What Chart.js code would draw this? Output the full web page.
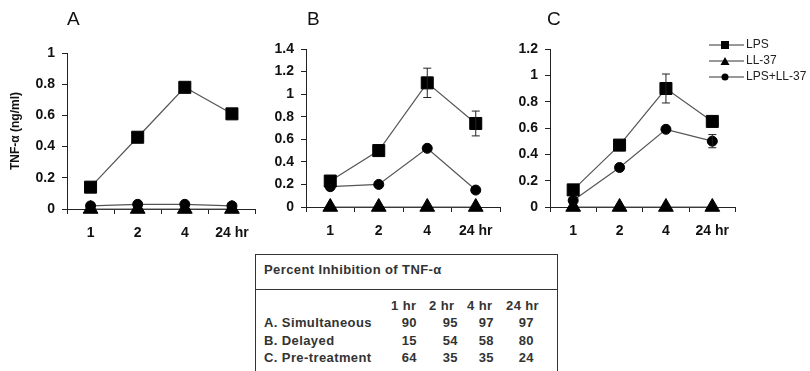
<!DOCTYPE html>
<html>
<head>
<meta charset="utf-8">
<script src="https://cdn.jsdelivr.net/npm/chart.js@4.4.1/dist/chart.umd.min.js"></script>
<style>
  body { margin: 0; background: #fff; width: 810px; height: 371px; overflow: hidden; position: relative;
         font-family: "Liberation Sans", Arial, sans-serif; color: #111; }
  canvas { position: absolute; top: 0; }
  .panel { position: absolute; font-size: 19px; top: 8px; color: #111; }
  .legend { position: absolute; left: 708px; font-size: 12px; line-height: 14px; color: #222; }
  .legend svg { vertical-align: middle; margin-right: 2px; }
  .box { position: absolute; left: 255px; top: 254px; width: 301px; height: 125px; border: 1px solid #333; }
  .t { position: absolute; font-size: 13px; font-weight: bold; letter-spacing: 0.4px; white-space: nowrap;
       line-height: 14px; color: #333; }
</style>
</head>
<body>
<canvas id="chartA" width="265" height="250" style="left:0"></canvas>
<canvas id="chartB" width="260" height="248" style="left:250px"></canvas>
<canvas id="chartC" width="245" height="248" style="left:500px"></canvas>
<div class="panel" style="left:67px">A</div>
<div class="panel" style="left:307px">B</div>
<div class="panel" style="left:547px">C</div>
<div id="legend"></div>
<div class="box" id="box"></div>
<script>
// time points
const categories = ['1', '2', '4', '24 hr'];

// panel A - simultaneous
const lpsA = [0.14, 0.46, 0.78, 0.61];
const ll37A = [0, 0, 0, 0];
const comboA = [0.02, 0.03, 0.03, 0.02];

// panel B - delayed
const lpsB = [0.23, 0.50, 1.10, 0.74];
const lpsErrB = [0, 0, 0.13, 0.11];
const ll37B = [0, 0, 0, 0];
const comboB = [0.18, 0.20, 0.52, 0.15];

// panel C - pre-treatment
const lpsC = [0.13, 0.47, 0.90, 0.65];
const lpsErrC = [0, 0, 0.11, 0];
const ll37C = [0, 0, 0, 0];
const comboC = [0.05, 0.30, 0.59, 0.50];
const comboErrC = [0, 0, 0, 0.05];

const seriesNames = ['LPS', 'LL-37', 'LPS+LL-37'];

// inhibition table
const tableTitle = 'Percent Inhibition of TNF-\u03b1';
const tableCols = ['1 hr', '2 hr', '4 hr', '24 hr'];
const tableRows = ['A. Simultaneous', 'B. Delayed', 'C. Pre-treatment'];
const inhibSimultaneous = [90, 95, 97, 97];
const inhibDelayed = [15, 54, 58, 80];
const inhibPretreatment = [64, 35, 35, 24];

const FONT = '"Liberation Sans", Arial, sans-serif';

const errorBars = {
    id: 'errorBars',
    afterDatasetsDraw(chart) {
        const ctx = chart.ctx;
        const y = chart.scales.y;
        chart.data.datasets.forEach((ds, i) => {
            if (!ds.errors) return;
            const meta = chart.getDatasetMeta(i);
            meta.data.forEach((pt, j) => {
                const e = ds.errors[j];
                if (!e) return;
                const top = y.getPixelForValue(ds.data[j] + e);
                const bot = y.getPixelForValue(ds.data[j] - e);
                ctx.save();
                ctx.strokeStyle = '#222';
                ctx.lineWidth = 1;
                ctx.beginPath();
                ctx.moveTo(pt.x, top); ctx.lineTo(pt.x, bot);
                ctx.moveTo(pt.x - 4, top); ctx.lineTo(pt.x + 4, top);
                ctx.moveTo(pt.x - 4, bot); ctx.lineTo(pt.x + 4, bot);
                ctx.stroke();
                ctx.restore();
            });
        });
    }
};

function series(label, data, style, radius, errors) {
    return {
        label, data, errors,
        borderColor: '#555', borderWidth: 1.2,
        pointStyle: style, pointRadius: radius, pointHoverRadius: radius,
        pointBackgroundColor: '#000', pointBorderColor: '#000', pointBorderWidth: 1,
        tension: 0, clip: false
    };
}

function makeChart(id, sets, yMax, cfg) {
    new Chart(document.getElementById(id), {
        type: 'line',
        data: { labels: categories, datasets: sets },
        options: {
            responsive: false,
            animation: false,
            layout: { padding: { top: cfg.padTop, right: cfg.padRight, left: 0, bottom: 0 } },
            plugins: { legend: { display: false }, tooltip: { enabled: false } },
            scales: {
                x: {
                    offset: true,
                    grid: { offset: true, drawOnChartArea: false, tickLength: 5, color: '#222' },
                    border: { color: '#222', width: 1 },
                    ticks: { color: '#111', padding: 11, font: { family: FONT, size: 14, weight: 'bold' } },
                    afterFit(s) { s.height = 41; }
                },
                y: {
                    min: 0, max: yMax,
                    grid: { drawOnChartArea: false, tickLength: 5, color: '#222' },
                    border: { color: '#222', width: 1 },
                    ticks: {
                        stepSize: 0.2, padding: 7, color: '#111',
                        font: { family: FONT, size: 14, weight: 'bold' },
                        callback: v => String(Math.round(v * 10) / 10)
                    },
                    title: {
                        display: !!cfg.title, text: cfg.title || '', color: '#111',
                        padding: { top: 8, bottom: 0 },
                        font: { family: FONT, size: 12, weight: 'bold' }
                    },
                    afterFit(s) { s.width = cfg.yWidth; }
                }
            }
        },
        plugins: [errorBars]
    });
}

makeChart('chartA', [
    series(seriesNames[0], lpsA, 'rect', 8.5),
    series(seriesNames[1], ll37A, 'triangle', 8.5),
    series(seriesNames[2], comboA, 'circle', 5)
], 1, { padTop: 53, padRight: 8, yWidth: 67, title: 'TNF-\u03b1 (ng/ml)' });

makeChart('chartB', [
    series(seriesNames[0], lpsB, 'rect', 8.5, lpsErrB),
    series(seriesNames[1], ll37B, 'triangle', 8.5),
    series(seriesNames[2], comboB, 'circle', 5)
], 1.4, { padTop: 49, padRight: 10, yWidth: 56 });

makeChart('chartC', [
    series(seriesNames[0], lpsC, 'rect', 8.5, lpsErrC),
    series(seriesNames[1], ll37C, 'triangle', 8.5),
    series(seriesNames[2], comboC, 'circle', 5, comboErrC)
], 1.2, { padTop: 49, padRight: 5, yWidth: 50 });

// legend
const markers = [
    '<rect x="13" y="3" width="8" height="8" fill="#000"/>',
    '<polygon points="17,3 21.5,11 12.5,11" fill="#000"/>',
    '<circle cx="17" cy="7" r="3.5" fill="#000"/>'
];
document.getElementById('legend').innerHTML = seriesNames.map((name, i) =>
    `<div class="legend" style="top:${37 + i * 16}px">` +
    `<svg width="36" height="14"><line x1="1" y1="7" x2="36" y2="7" stroke="#333" stroke-width="1"/>${markers[i]}</svg>${name}</div>`
).join('');

// inhibition table (positions relative to the box)
const box = document.getElementById('box');
const rowValues = [inhibSimultaneous, inhibDelayed, inhibPretreatment];
const colHeadX = [135, 173, 211, 250];
const colValRight = [161, 202, 238, 278];
const rowTops = [61, 79, 96];
let html = `<div class="t" style="left:8px;top:8px">${tableTitle}</div>`;
html += `<div style="position:absolute;left:0;right:0;top:34px;border-top:1px solid #333"></div>`;
tableCols.forEach((c, i) => { html += `<div class="t" style="left:${colHeadX[i]}px;top:44px">${c}</div>`; });
tableRows.forEach((r, k) => {
    const top = rowTops[k];
    html += `<div class="t" style="left:8px;top:${top}px">${r}</div>`;
    rowValues[k].forEach((v, i) => {
        html += `<div class="t" style="right:${301 - colValRight[i]}px;top:${top}px">${v}</div>`;
    });
});
box.innerHTML = html;
</script>
</body>
</html>
